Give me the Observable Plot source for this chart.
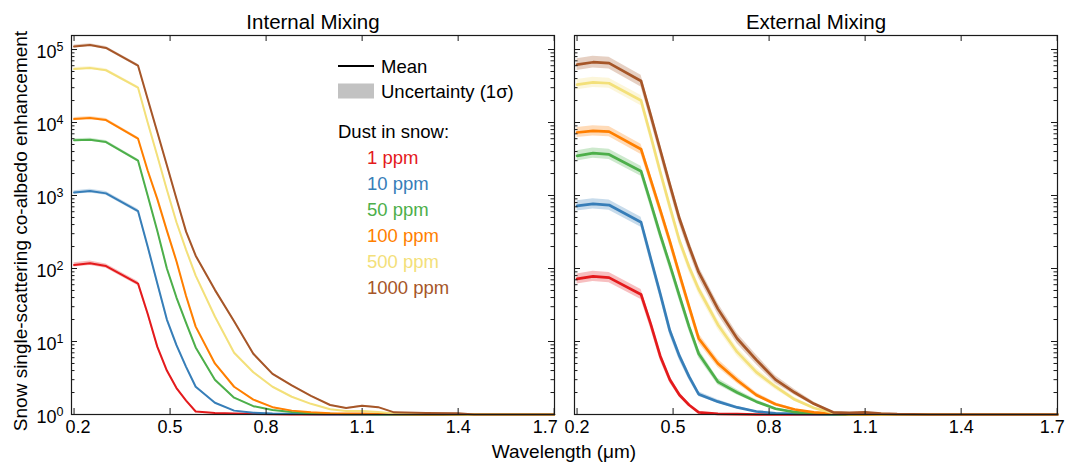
<!DOCTYPE html>
<html><head><meta charset="utf-8">
<script src="https://cdn.jsdelivr.net/npm/d3@7"></script>
<script src="https://cdn.jsdelivr.net/npm/@observablehq/plot@0.6"></script>
<style>
body{margin:0;background:#fff;}
#chart{position:relative;width:1065px;height:464px;}
</style>
</head><body><div id="chart"></div>
<script>
// ---- data ----
const panels = ["Internal Mixing", "External Mixing"];
const seriesNames = ["1 ppm", "10 ppm", "50 ppm", "100 ppm", "500 ppm", "1000 ppm"];
const seriesColors = ["#e41a1c", "#377eb8", "#4daf4a", "#ff7f00", "#f3e07a", "#a65628"];
const wavelengths = [0.2, 0.25, 0.3, 0.4, 0.43, 0.46, 0.49, 0.52, 0.55, 0.58, 0.64, 0.7, 0.76, 0.82, 0.88, 0.94, 1.0, 1.05, 1.1, 1.15, 1.2, 1.3, 1.4, 1.45, 1.5, 1.6, 1.7];
const xTicks = [0.2, 0.5, 0.8, 1.1, 1.4, 1.7];
const yMajor = [1, 10, 100, 1000, 10000, 100000];

const internal1 = [112,118,108,62, 24,8.5,4.0,2.3,1.55,1.1, 1.05,1.03,1.02,1.01,1.0,1.0, 1,1,1,1,1, 1,1,1,1,1,1];
const internal10 = [1100,1150,1070,610, 200,63,20,8.9,4.5,2.4, 1.45,1.13,1.06,1.03,1.02,1.01, 1,1,1,1,1, 1,1,1,1,1,1];
const internal50 = [5700,5800,5400,3000, 1000,330,100,40,18,8.3, 3.0,1.7,1.3,1.15,1.08,1.04, 1.02,1.01,1.01,1.0,1.0, 1,1,1,1,1,1];
const internal100 = [11200,11500,10800,6000, 2200,900,330,126,42,16, 5,2.4,1.6,1.26,1.13,1.07, 1.04,1.03,1.03,1.02,1.01, 1,1,1,1,1,1];
const internal500 = [54000,56000,52000,30000, 10000,3500,1200,430,180,80, 22,7,3.8,2.4,1.75,1.4, 1.18,1.12,1.12,1.08,1.03, 1.02,1.01,1,1,1,1];
const internal1000 = [110000,115000,105000,60000, 21000,7400,2600,900,320,150, 51,19,6.8,3.6,2.5,1.8, 1.35,1.23,1.32,1.26,1.07, 1.05,1.04,1.0,1,1,1];

const external1 = [72,78,75,44, 17.4,6.3,3.0,1.85,1.35,1.07, 1.02,1.01,1,1,1,1, 1,1,1,1,1, 1,1,1,1,1,1];
const external10 = [720,770,740,430, 138,45,14,6.3,3.3,1.9, 1.5,1.25,1.1,1.04,1.02,1.01, 1,1,1,1,1, 1,1,1,1,1,1];
const external50 = [3500,3800,3650,2150, 800,290,112,42,16,6.8, 2.8,2.0,1.5,1.2,1.08,1.03, 1.01,1,1,1,1, 1,1,1,1,1,1];
const external100 = [7300,7700,7500,4300, 1650,630,235,83,30,11, 5,2.95,1.85,1.38,1.17,1.07, 1.03,1.01,1,1,1, 1,1,1,1,1,1];
const external500 = [33000,35500,34500,20000, 6600,2100,700,240,105,52, 17,7.2,3.8,2.4,1.6,1.23, 1.05,1.02,1.02,1.01,1.0, 1,1,1,1,1,1];
const external1000 = [62000,67000,65000,37000, 12600,4200,1400,480,200,89, 28,11,5.6,3.0,2.0,1.4, 1.07,1.05,1.07,1.03,1.01, 1,1,1,1,1,1];

// 1-sigma uncertainty (log10 half-width of the enhancement above 1), per series
const internalSigma = [0.03, 0.025, 0.02, 0.02, 0.02, 0.02];
const externalSigma = [0.07, 0.07, 0.07, 0.07, 0.07, 0.08];

const internalMean = [internal1, internal10, internal50, internal100, internal500, internal1000];
const externalMean = [external1, external10, external50, external100, external500, external1000];

const rows = [];
panels.forEach((p, pi) => {
  const means = pi === 0 ? internalMean : externalMean;
  const sig = pi === 0 ? internalSigma : externalSigma;
  seriesNames.forEach((s, si) => {
    const f = Math.pow(10, sig[si]);
    wavelengths.forEach((w, wi) => {
      const v = means[si][wi];
      rows.push({panel: p, series: s, wl: w, mean: v, lo: 1 + (v - 1) / f, hi: 1 + (v - 1) * f});
    });
  });
});
const yMinor = [1, 10, 100, 1000, 10000].flatMap(d => [2,3,4,5,6,7,8,9].map(k => k * d));

// ---- layout ----
const W = 1065, H = 464, mL = 71, mR = 8, mT = 35, mB = 50;
const gap = 20;
const facetW = (W - mL - mR - gap) / 2;
const facetH = H - mT - mB;
const FONT = "'Liberation Sans', Arial, Helvetica, sans-serif";
const ink = "#1a1a1a";

const chart = Plot.plot({
  width: W, height: H,
  marginLeft: mL, marginRight: mR, marginTop: mT, marginBottom: mB,
  style: {fontFamily: FONT, background: "white", color: "black", overflow: "visible"},
  x: {domain: [0.192, 1.701]},
  y: {type: "log", domain: [1, 1.556e5]},
  fx: {domain: panels, paddingInner: gap / (facetW + gap), paddingOuter: 0, round: false},
  color: {domain: seriesNames, range: seriesColors},
  marks: [
    Plot.areaY(rows, {x: "wl", y1: "lo", y2: "hi", z: "series", fill: "series", fillOpacity: 0.28, fx: "panel"}),
    Plot.line(rows, {filter: d => d.panel === panels[0], x: "wl", y: "mean", z: "series", stroke: "series", strokeWidth: 2, fx: "panel", strokeLinejoin: "round"}),
    Plot.line(rows, {filter: d => d.panel === panels[1], x: "wl", y: "mean", z: "series", stroke: "series", strokeWidth: 2.7, fx: "panel", strokeLinejoin: "round"}),
    Plot.frame({stroke: ink, strokeWidth: 1.2}),
    Plot.tickY(yMajor, {y: d => d, insetRight: facetW - 6, stroke: ink}),
    Plot.tickY(yMajor, {y: d => d, insetLeft: facetW - 6, stroke: ink}),
    Plot.tickY(yMinor, {y: d => d, insetRight: facetW - 3.5, stroke: ink}),
    Plot.tickY(yMinor, {y: d => d, insetLeft: facetW - 3.5, stroke: ink}),
    Plot.tickX(xTicks, {x: d => d, insetTop: facetH - 6, stroke: ink}),
    Plot.tickX(xTicks, {x: d => d, insetBottom: facetH - 6, stroke: ink}),
    Plot.axisX({anchor: "bottom", ticks: xTicks, tickSize: 0, tickPadding: 6, fontSize: 18, label: null, tickFormat: d => d.toFixed(1)}),
    Plot.axisY({anchor: "left", ticks: yMajor, tickSize: 0, tickPadding: 8, fontSize: 18, label: null, tickFormat: d => String(Math.round(Math.log10(d)))}),
    Plot.axisFx({anchor: "top", tickSize: 0, tickPadding: 7, fontSize: 20.5, label: null})
  ]
});
document.getElementById("chart").appendChild(chart);

const svg = d3.select(chart);
// superscript exponents on y tick labels
svg.selectAll('[aria-label="y-axis tick label"] text').each(function() {
  const e = this.textContent;
  const t = d3.select(this);
  t.text("10").attr("dy", "0.15em");
  t.append("tspan").attr("dy", "-0.55em").attr("font-size", "12.5px").text(e);
});
// nudge edge x tick labels apart (as in the reference)
const midX = mL + facetW + gap / 2;
svg.selectAll('[aria-label="x-axis tick label"] text').each(function() {
  const left = this.getBoundingClientRect().x < midX;
  const s = this.textContent;
  if (s === "1.7") d3.select(this).attr("dx", left ? -9 : -5);
  if (s === "0.2" && left) d3.select(this).attr("dx", 4);
});

// axis titles
svg.append("text")
  .attr("x", midX).attr("y", 451)
  .attr("text-anchor", "middle").attr("dominant-baseline", "central")
  .attr("font-family", FONT).attr("font-size", 19).attr("fill", "black")
  .text("Wavelength (\u03bcm)");
svg.append("text")
  .attr("transform", `translate(20,231) rotate(-90)`)
  .attr("text-anchor", "middle").attr("dominant-baseline", "central")
  .attr("font-family", FONT).attr("font-size", 19).attr("fill", "black")
  .text("Snow single-scattering co-albedo enhancement");

// legend (inside left panel)
const lg = svg.append("g").attr("font-family", FONT).attr("font-size", 18.5).attr("text-anchor", "start");
lg.append("line").attr("x1", 338).attr("x2", 374).attr("y1", 66).attr("y2", 66).attr("stroke", "black").attr("stroke-width", 2);
lg.append("text").attr("x", 381).attr("y", 66).attr("dominant-baseline", "central").text("Mean");
lg.append("rect").attr("x", 338).attr("y", 83.5).attr("width", 36).attr("height", 15).attr("fill", "#c2c2c2");
lg.append("text").attr("x", 381).attr("y", 91.5).attr("dominant-baseline", "central").text("Uncertainty (1\u03c3)");
lg.append("text").attr("x", 338).attr("y", 131).attr("dominant-baseline", "central").text("Dust in snow:");
seriesNames.forEach((s, i) => {
  lg.append("text").attr("x", 367).attr("y", 157.7 + i * 25.9).attr("dominant-baseline", "central")
    .attr("fill", seriesColors[i]).text(s);
});
</script>
</body></html>
